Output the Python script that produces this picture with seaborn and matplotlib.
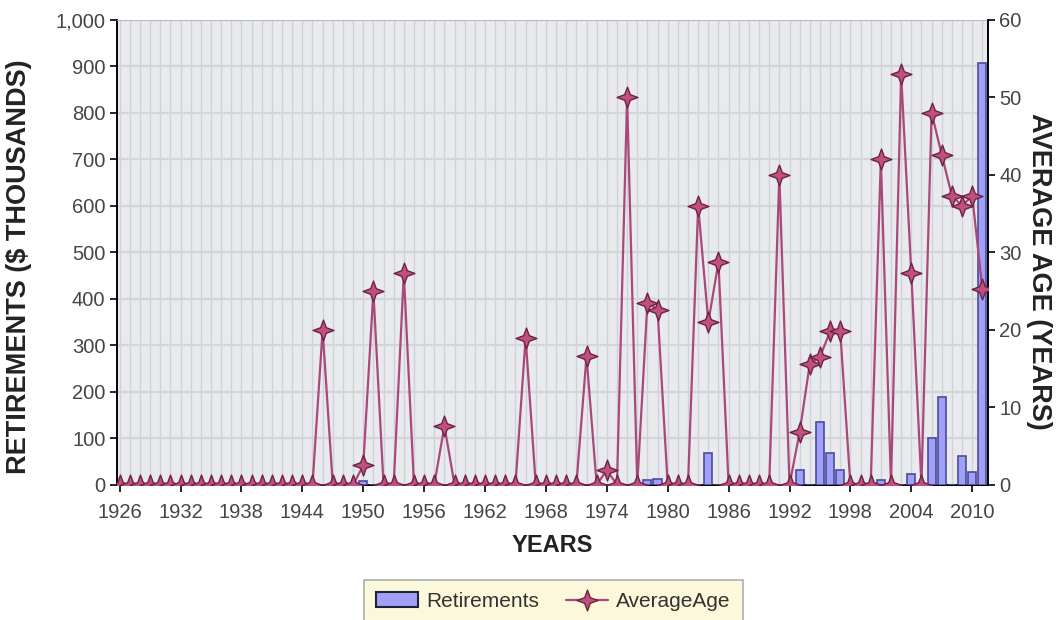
import matplotlib
matplotlib.use('Agg')
import matplotlib.pyplot as plt
from matplotlib.path import Path
from matplotlib.patches import Patch
from matplotlib.lines import Line2D
import pandas as pd
import seaborn as sns

# data, one value per year 1926-2011
years = list(range(1926, 2012))

retirements = [
    0, 0, 0, 0, 0, 0, 0, 0, 0, 0,          # 1926-1935
    0, 0, 0, 0, 0, 0, 0, 0, 0, 0,          # 1936-1945
    0, 0, 0, 0, 8, 0, 0, 0, 0, 0,          # 1946-1955
    0, 0, 0, 0, 0, 0, 0, 0, 0, 0,          # 1956-1965
    0, 0, 0, 0, 0, 0, 0, 0, 0, 0,          # 1966-1975
    0, 0, 10, 12, 0, 0, 0, 0, 69, 0,       # 1976-1985
    0, 0, 0, 0, 0, 0, 0, 31, 0, 136,       # 1986-1995
    68, 32, 0, 0, 0, 10, 0, 0, 24, 0,      # 1996-2005
    101, 189, 0, 61, 28, 907,              # 2006-2011
]

average_age = [
    0, 0, 0, 0, 0, 0, 0, 0, 0, 0,                      # 1926-1935
    0, 0, 0, 0, 0, 0, 0, 0, 0, 0,                      # 1936-1945
    20, 0, 0, 0, 2.5, 25, 0, 0, 27.3, 0,               # 1946-1955
    0, 0, 7.6, 0, 0, 0, 0, 0, 0, 0,                    # 1956-1965
    19, 0, 0, 0, 0, 0, 16.6, 0, 1.9, 0,                # 1966-1975
    50, 0, 23.5, 22.6, 0, 0, 0, 36, 21, 28.7,          # 1976-1985
    0, 0, 0, 0, 0, 40, 0, 6.8, 15.6, 16.5,             # 1986-1995
    19.8, 19.8, 0, 0, 0, 42, 0, 53, 27.3, 0,           # 1996-2005
    48, 42.6, 37.3, 36, 37.3, 25.3,                    # 2006-2011
]

year_ticks = list(range(1926, 2011, 6))

df = pd.DataFrame({'year': years, 'retirements': retirements, 'age': average_age})

sns.set_style('white')
plt.rcParams['font.family'] = ['Liberation Sans', 'DejaVu Sans']

fig = plt.figure(figsize=(10.6, 6.2), dpi=100)
ax = fig.add_axes([0.110, 0.218, 0.822, 0.750])
ax.set_facecolor('#e8eaed')

bar_color = '#a0a0f8'
bar_edge = '#4b4b9a'
line_color = '#a8497a'
star_face = '#c2507f'
star_edge = '#6b2343'

ax.bar(df['year'], df['retirements'], width=0.8, color=bar_color,
       edgecolor=bar_edge, linewidth=1.2, zorder=3)

ax.set_xlim(1925.7, 2011.55)
ax.set_ylim(0, 1000)
ax.set_xticks(year_ticks)
ax.set_xticks(years, minor=True)
ax.set_yticks(range(0, 1001, 100))
ax.set_yticklabels(['0', '100', '200', '300', '400', '500', '600', '700', '800', '900', '1,000'])
ax.grid(which='minor', axis='x', color='#cfd2d6', linewidth=1.0, zorder=0)
ax.grid(which='major', axis='x', color='#cfd2d6', linewidth=1.0, zorder=0)
ax.grid(which='major', axis='y', color='#d3d6d9', linewidth=1.6, zorder=0)
ax.set_axisbelow(True)
ax.tick_params(axis='x', which='minor', length=0)
ax.tick_params(axis='both', which='major', direction='out', length=5, width=1.2,
               color='black', labelsize=14.5, labelcolor='#454545')
ax.tick_params(axis='x', bottom=True, pad=8)
ax.tick_params(axis='y', left=True, pad=3)

for s in ['left', 'bottom']:
    ax.spines[s].set_color('black')
    ax.spines[s].set_linewidth(1.4)
ax.spines['top'].set_color('#b8bbbe')
ax.spines['right'].set_visible(False)

ax.set_xlabel('YEARS', fontsize=17, fontweight='bold', color='#222222')
ax.xaxis.set_label_coords(0.5, -0.105)
ax.set_ylabel('RETIREMENTS ($ THOUSANDS)', fontsize=19.5, fontweight='bold', color='#222222')
ax.yaxis.set_label_coords(-0.097, 0.47)

# right axis: average age
ax2 = ax.twinx()
star = Path.unit_regular_star(4, 0.38)
sns.lineplot(data=df, x='year', y='age', ax=ax2, color=line_color, linewidth=1.6,
             marker=star, markersize=15, markerfacecolor=star_face,
             markeredgecolor=star_edge, markeredgewidth=1.0, zorder=4)
ax2.set_ylim(0, 60)
ax2.set_yticks(range(0, 61, 10))
ax2.tick_params(axis='y', direction='out', length=5, width=1.2, color='black',
                labelsize=14.5, labelcolor='#454545', right=True, pad=3)
ax2.spines['right'].set_color('black')
ax2.spines['right'].set_linewidth(1.4)
for s in ['left', 'top', 'bottom']:
    ax2.spines[s].set_visible(False)
ax2.set_xlabel('')
ax2.set_ylabel('')
fig.text(0.980, 0.563, 'AVERAGE AGE (YEARS)', fontsize=19.5, fontweight='bold',
         color='#222222', rotation=-90, ha='center', va='center')

handles = [
    Patch(facecolor=bar_color, edgecolor='#20203a', linewidth=1.5),
    Line2D([0], [0], color=line_color, linewidth=1.6, marker=star, markersize=15,
           markerfacecolor=star_face, markeredgecolor=star_edge),
]
leg = fig.legend(handles, ['Retirements', 'AverageAge'], loc='upper center',
                 bbox_to_anchor=(0.522, 0.082), ncol=2, fontsize=15, frameon=True,
                 fancybox=False, edgecolor='#9a9a9a', facecolor='#fbf7d2',
                 handlelength=2.0, handletextpad=0.4, columnspacing=1.3,
                 borderpad=0.6)
leg.get_frame().set_linewidth(1.2)
for t in leg.get_texts():
    t.set_color('#333333')

fig.savefig('out.png', dpi=100)
